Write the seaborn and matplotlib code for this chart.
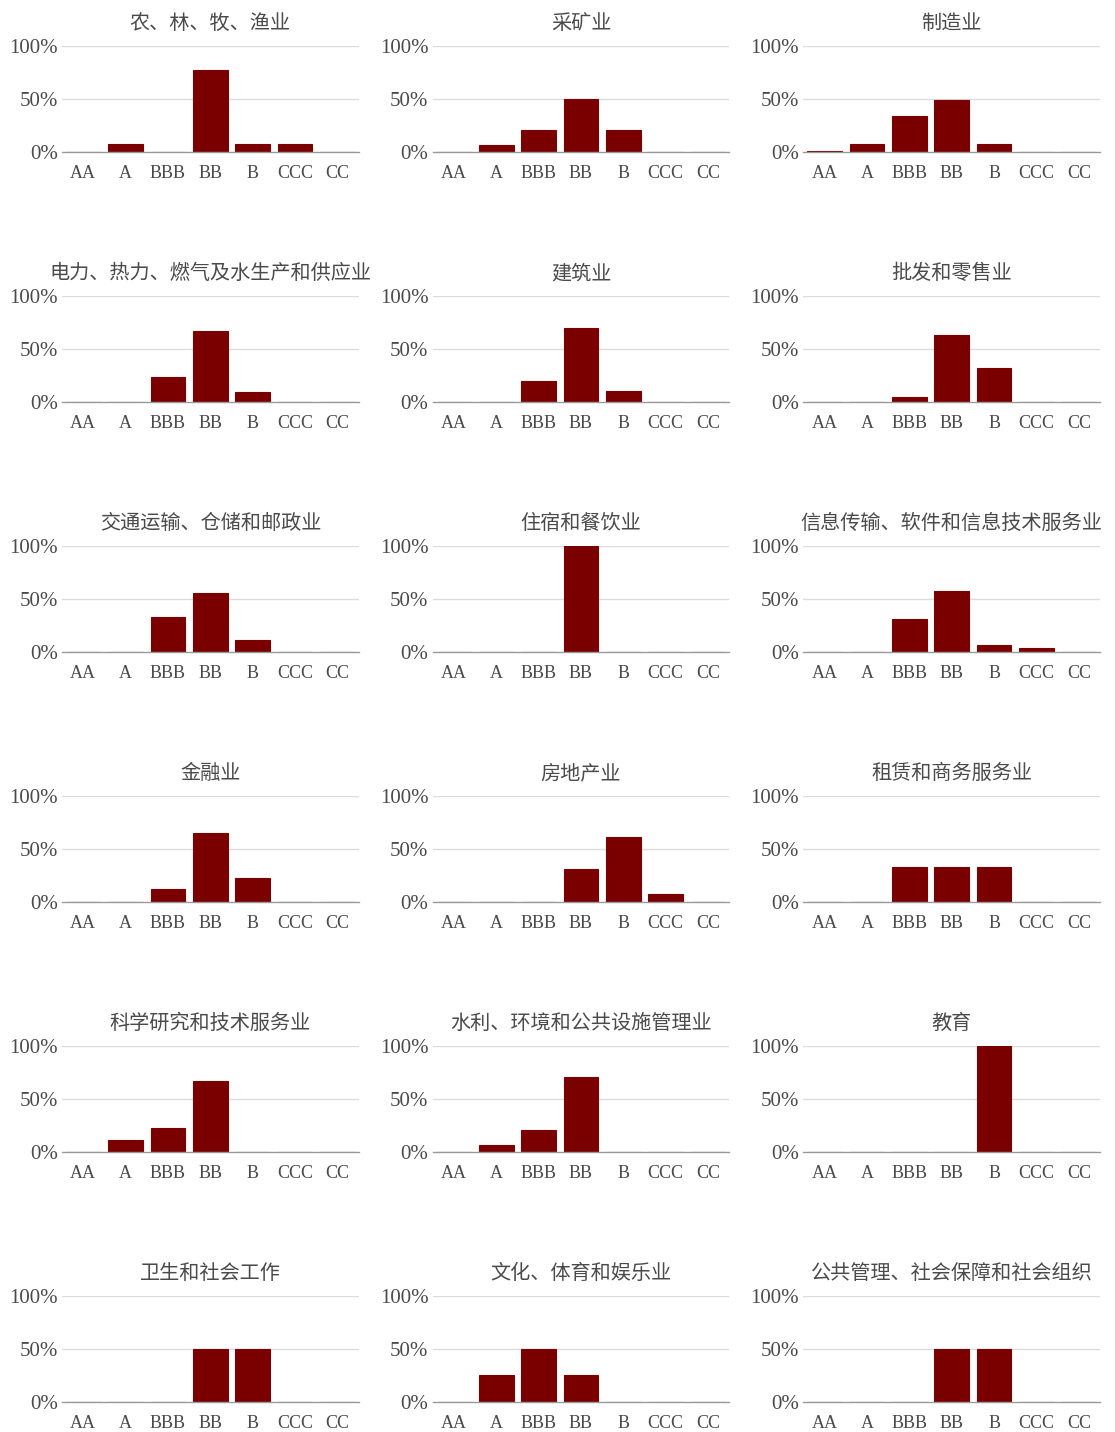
import numpy as np
import pandas as pd
import matplotlib
matplotlib.use("Agg")
import matplotlib.pyplot as plt
import seaborn as sns
from matplotlib.ticker import PercentFormatter

# rating categories and industries
ratings = ["AA", "A", "BBB", "BB", "B", "CCC", "CC"]
industries = [
    "农、林、牧、渔业", "采矿业", "制造业",
    "电力、热力、燃气及水生产和供应业", "建筑业", "批发和零售业",
    "交通运输、仓储和邮政业", "住宿和餐饮业", "信息传输、软件和信息技术服务业",
    "金融业", "房地产业", "租赁和商务服务业",
    "科学研究和技术服务业", "水利、环境和公共设施管理业", "教育",
    "卫生和社会工作", "文化、体育和娱乐业", "公共管理、社会保障和社会组织",
]

# share of firms per rating (AA, A, BBB, BB, B, CCC, CC)
agri        = [0.00, 0.077, 0.00, 0.77, 0.077, 0.077, 0.00]
mining      = [0.00, 0.07, 0.21, 0.50, 0.21, 0.00, 0.00]
manufact    = [0.01, 0.08, 0.34, 0.49, 0.08, 0.00, 0.00]
utilities   = [0.00, 0.00, 0.24, 0.67, 0.09, 0.00, 0.00]
construct   = [0.00, 0.00, 0.20, 0.70, 0.10, 0.00, 0.00]
wholesale   = [0.00, 0.00, 0.05, 0.63, 0.32, 0.00, 0.00]
transport   = [0.00, 0.00, 0.33, 0.56, 0.11, 0.00, 0.00]
hotel       = [0.00, 0.00, 0.00, 1.00, 0.00, 0.00, 0.00]
it_service  = [0.00, 0.00, 0.31, 0.58, 0.07, 0.04, 0.00]
finance     = [0.00, 0.00, 0.12, 0.65, 0.23, 0.00, 0.00]
realestate  = [0.00, 0.00, 0.00, 0.31, 0.61, 0.08, 0.00]
leasing     = [0.00, 0.00, 0.333, 0.333, 0.333, 0.00, 0.00]
research    = [0.00, 0.111, 0.222, 0.667, 0.00, 0.00, 0.00]
water       = [0.00, 0.07, 0.21, 0.71, 0.00, 0.00, 0.00]
education   = [0.00, 0.00, 0.00, 0.00, 1.00, 0.00, 0.00]
health      = [0.00, 0.00, 0.00, 0.50, 0.50, 0.00, 0.00]
culture     = [0.00, 0.25, 0.50, 0.25, 0.00, 0.00, 0.00]
public_mgmt = [0.00, 0.00, 0.00, 0.50, 0.50, 0.00, 0.00]

shares = [agri, mining, manufact, utilities, construct, wholesale,
          transport, hotel, it_service, finance, realestate, leasing,
          research, water, education, health, culture, public_mgmt]

sns.set_theme(style="white")
plt.rcParams['font.family'] = ['Liberation Serif', 'Noto Sans CJK SC', 'DejaVu Sans']

bar_color = "#7a0000"
text_color = "#4a4a4a"

fig, axes = plt.subplots(6, 3, figsize=(11.15, 14.32), dpi=100)
fig.subplots_adjust(left=62/1115, right=1100/1115, top=1-46/1432,
                    bottom=30/1432, wspace=0.25, hspace=1.358)

for ax, name, vals in zip(axes.flat, industries, shares):
    df = pd.DataFrame({"rating": ratings, "share": vals})
    sns.barplot(data=df, x="rating", y="share", order=ratings, color=bar_color,
                width=0.82, edgecolor=bar_color, linewidth=0.8, saturation=1, ax=ax)
    ax.set_ylim(0, 1.0)
    ax.set_xlim(-0.5, 6.5)
    ax.set_yticks([0, 0.5, 1.0])
    ax.yaxis.set_major_formatter(PercentFormatter(1.0, decimals=0))
    for yv in (0.5, 1.0):
        ax.axhline(yv, color="#dcdcdc", lw=1.0, zorder=0)
    for s in ("top", "right", "left"):
        ax.spines[s].set_visible(False)
    ax.spines["bottom"].set_color("#9a9a9a")
    ax.spines["bottom"].set_linewidth(1.0)
    ax.set_xlabel("")
    ax.set_ylabel("")
    ax.tick_params(axis="y", length=0, pad=3, labelsize=15, labelcolor=text_color)
    ax.tick_params(axis="x", length=0, pad=9, labelsize=13, labelcolor=text_color)
    ax.set_title(name, fontsize=14.5, color=text_color, pad=12,
                 family=['Noto Sans CJK SC', 'DejaVu Sans'])

fig.savefig("out.png", dpi=100, facecolor="white")
